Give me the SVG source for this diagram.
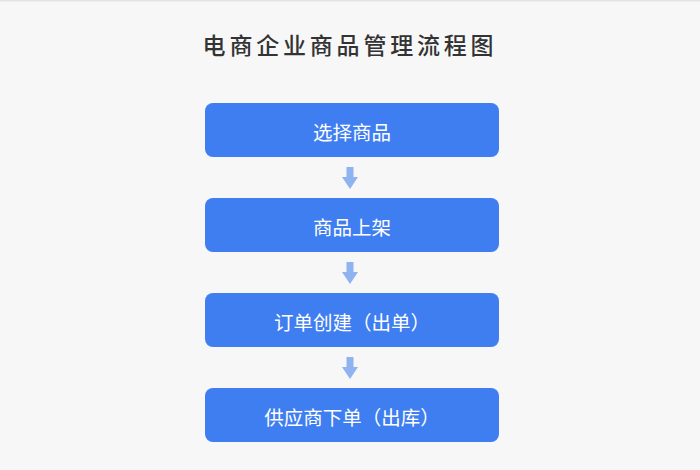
<svg xmlns="http://www.w3.org/2000/svg" width="700" height="470" viewBox="0 0 700 470">
<defs>
<style>
.bg{fill:#f7f7f8}
.title{font-family:"Noto Sans CJK SC","Noto Sans",sans-serif;font-size:23px;font-weight:500;fill:#333333;letter-spacing:3.8px;text-anchor:middle}
.box{fill:#3f7ef0}
.lbl{font-family:"Noto Sans CJK SC","Noto Sans",sans-serif;font-size:19.5px;fill:#ffffff;text-anchor:middle;dominant-baseline:central}
.arr{fill:#8fb2f0}
</style>
</defs>
<rect class="bg" x="0" y="0" width="700" height="470"/>
<rect x="0" y="0" width="700" height="1.5" fill="#e4e4e6"/>
<text class="title" x="350" y="54">电商企业商品管理流程图</text>
<g id="node1"><rect class="box" x="205" y="103" width="294" height="54" rx="8"/><text class="lbl" x="352" y="131">选择商品</text></g>
<g id="node2"><rect class="box" x="205" y="198" width="294" height="54" rx="8"/><text class="lbl" x="352" y="226">商品上架</text></g>
<g id="node3"><rect class="box" x="205" y="293" width="294" height="54" rx="8"/><text class="lbl" x="352" y="321">订单创建（出单）</text></g>
<g id="node4"><rect class="box" x="205" y="388" width="294" height="54" rx="8"/><text class="lbl" x="352" y="416">供应商下单（出库）</text></g>
<g id="connectors">
<path class="arr" d="M346.5 167 H353.5 V177 H358 L350 189 L342 177 H346.5 Z"/>
<path class="arr" d="M346.5 262 H353.5 V272 H358 L350 284 L342 272 H346.5 Z"/>
<path class="arr" d="M346.5 357 H353.5 V367 H358 L350 379 L342 367 H346.5 Z"/>
</g>
</svg>
